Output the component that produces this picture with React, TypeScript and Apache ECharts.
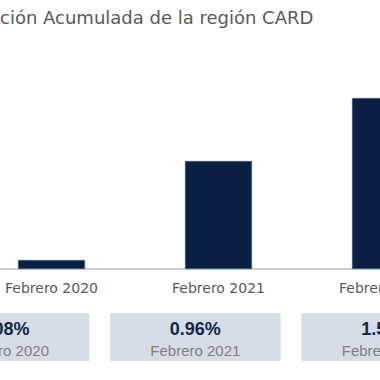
import React, { useEffect, useRef } from "react";
import * as echarts from "echarts";

const title = "ción Acumulada de la región CARD";
const categories = ["Febrero 2020", "Febrero 2021", "Febrero 2022"];
const values = [0.08, 0.96, 1.52];
const valueLabels = ["0.08%", "0.96%", "1.52%"];
const boxLabels = ["Febrero 2020", "Febrero 2021", "Febrero 2022"];

export default function App() {
  const ref = useRef<HTMLDivElement>(null);
  useEffect(() => {
    if (!ref.current) return;
    const chart = echarts.init(ref.current, undefined, { renderer: "svg" });
    const boxW = 170.7;
    const boxStep = 191.4;
    const boxLeft0 = -81.4;
    const graphics: any[] = [];
    valueLabels.forEach((v, i) => {
      const x = boxLeft0 + i * boxStep;
      const cx = x + boxW / 2;
      graphics.push({
        type: "rect",
        shape: { x, y: 313.3, width: boxW, height: 47.7 },
        style: { fill: "#d6dde6" },
        silent: true,
      });
      graphics.push({
        type: "text",
        x: cx,
        y: 329,
        style: {
          text: v,
          fill: "#0f2748",
          font: "bold 18px 'Liberation Sans', Arial, sans-serif",
          textAlign: "center",
          textVerticalAlign: "middle",
        },
      });
      graphics.push({
        type: "text",
        x: cx,
        y: 350,
        style: {
          text: boxLabels[i],
          fill: "#7f7f7f",
          font: "15px 'Liberation Sans', Arial, sans-serif",
          textAlign: "center",
          textVerticalAlign: "middle",
        },
      });
    });
    chart.setOption({
      animation: false,
      title: {
        text: title,
        left: 0,
        top: 8,
        padding: 0,
        textStyle: {
          fontSize: 18,
          fontWeight: "normal",
          color: "#595959",
          fontFamily: "'DejaVu Sans', sans-serif",
        },
      },
      grid: { left: -32, width: 501, top: 44, height: 225, outerBoundsMode: "none", containLabel: false },
      xAxis: {
        type: "category",
        data: categories,
        axisLine: { lineStyle: { color: "#bfbfbf", width: 1.5 } },
        axisTick: { show: false },
        axisLabel: {
          color: "#595959",
          fontSize: 14,
          fontFamily: "'DejaVu Sans', sans-serif",
          margin: 12,
          interval: 0,
        },
      },
      yAxis: {
        type: "value",
        min: 0,
        max: 2,
        show: false,
        splitLine: { show: false },
      },
      series: [
        {
          type: "bar",
          data: values,
          barWidth: 67,
          itemStyle: { color: "#0a1f44", borderColor: "#55647f", borderWidth: 0.5 },
        },
      ],
      graphic: graphics,
    });
    return () => chart.dispose();
  }, []);
  return (
    <div
      ref={ref}
      style={{ position: "absolute", left: 0, top: 0, width: 380, height: 380, background: "#fff" }}
    />
  );
}
